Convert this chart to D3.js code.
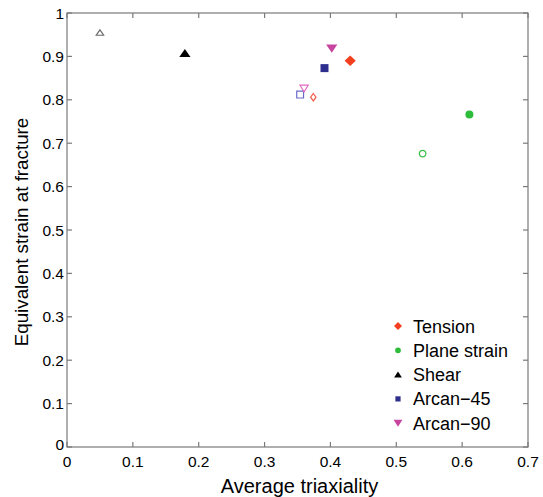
<!DOCTYPE html>
<html><head><meta charset="utf-8">
<script src="https://cdn.jsdelivr.net/npm/d3@7"></script>
<style>body{margin:0;background:#fff}svg{display:block}text{font-family:"Liberation Sans",Arial,sans-serif}</style>
</head><body>
<svg id="c" width="543" height="497"></svg>
<script>
const xTicks = [0,0.1,0.2,0.3,0.4,0.5,0.6,0.7];
const yTicks = [0,0.1,0.2,0.3,0.4,0.5,0.6,0.7,0.8,0.9,1];
const seriesNames = ["Tension","Plane strain","Shear","Arcan\u221245","Arcan\u221290"];
const seriesShapes = ["diamond","circle","triUp","square","triDown"];
const filledColors = ["#f2401e","#2ebd3a","#000000","#2e2e8e","#c8459f"];
const openColors = ["#f25a4a","#3cbf48","#6a6a6a","#6a6ac8","#e06ac0"];
const filledX = [0.430,0.611,0.179,0.391,0.402];
const filledY = [0.890,0.766,0.908,0.873,0.918];
const openX = [0.374,0.540,0.050,0.354,0.360];
const openY = [0.806,0.676,0.955,0.812,0.826];

const svg = d3.select("#c");
const L=67,R=528,T=13,B=447;
const x = d3.scaleLinear().domain([0,0.7]).range([L,R]);
const y = d3.scaleLinear().domain([0,1]).range([B,T]);
const axisCol="#7a7a7a";

// w = half width, h = half height
function shapePath(shape, cx, cy, w, h){
  switch(shape){
    case "diamond": return `M${cx},${cy-h}L${cx+w},${cy}L${cx},${cy+h}L${cx-w},${cy}Z`;
    case "square": return `M${cx-w},${cy-h}h${2*w}v${2*h}h${-2*w}Z`;
    case "triUp": return `M${cx},${cy-h}L${cx+w},${cy+h}L${cx-w},${cy+h}Z`;
    case "triDown": return `M${cx},${cy+h}L${cx+w},${cy-h}L${cx-w},${cy-h}Z`;
    case "circle": return `M${cx+w},${cy}A${w},${w} 0 1,1 ${cx-w},${cy}A${w},${w} 0 1,1 ${cx+w},${cy}Z`;
  }
}

svg.append("rect").attr("x",L).attr("y",T).attr("width",R-L).attr("height",B-T)
  .attr("fill","none").attr("stroke",axisCol).attr("stroke-width",1.2);

const tl=5;
xTicks.forEach(t=>{
  svg.append("line").attr("x1",x(t)).attr("x2",x(t)).attr("y1",B).attr("y2",B-tl).attr("stroke",axisCol).attr("stroke-width",1.2);
  svg.append("line").attr("x1",x(t)).attr("x2",x(t)).attr("y1",T).attr("y2",T+tl).attr("stroke",axisCol).attr("stroke-width",1.2);
  svg.append("text").attr("x",x(t)).attr("y",B+20).attr("text-anchor","middle").attr("font-size",15.5).text(t===0?"0":d3.format(".1f")(t));
});
yTicks.forEach(t=>{
  svg.append("line").attr("x1",L).attr("x2",L+tl).attr("y1",y(t)).attr("y2",y(t)).attr("stroke",axisCol).attr("stroke-width",1.2);
  svg.append("line").attr("x1",R).attr("x2",R-tl).attr("y1",y(t)).attr("y2",y(t)).attr("stroke",axisCol).attr("stroke-width",1.2);
  svg.append("text").attr("x",L-3).attr("y",y(t)+(t===0?3:5.5)).attr("text-anchor","end").attr("font-size",15.5).text(t===0?"0":(t===1?"1":d3.format(".1f")(t)));
});

svg.append("text").attr("x",(L+R)/2+2).attr("y",493).attr("text-anchor","middle").attr("font-size",20).text("Average triaxiality");
svg.append("text").attr("transform",`translate(28,${(T+B)/2+2}) rotate(-90)`).attr("text-anchor","middle").attr("font-size",18.8).text("Equivalent strain at fracture");

// open markers: [halfW, halfH]
const os=[[2.7,3.7],[3.3,3.3],[3.7,2.7],[3.4,3.4],[4.1,3.3]];
seriesNames.forEach((n,i)=>{
  svg.append("path").attr("d",shapePath(seriesShapes[i],x(openX[i]),y(openY[i]),os[i][0],os[i][1]))
    .attr("fill","none").attr("stroke",openColors[i]).attr("stroke-width",1.2);
});
// filled markers
const fs=[[5.6,5.3],[4,4],[5.6,4],[4,4],[5.6,4.2]];
seriesNames.forEach((n,i)=>{
  svg.append("path").attr("d",shapePath(seriesShapes[i],x(filledX[i]),y(filledY[i]),fs[i][0],fs[i][1]))
    .attr("fill",filledColors[i]).attr("stroke","none");
});

// legend
const ls=[[4,4],[2.9,2.9],[3.9,3],[2.6,2.6],[4.4,3.5]];
const lg = svg.append("g");
seriesNames.forEach((n,i)=>{
  const yy = 326 + i*24.3;
  lg.append("path").attr("d",shapePath(seriesShapes[i],398,yy,ls[i][0],ls[i][1]))
    .attr("fill",filledColors[i]);
  lg.append("text").attr("x",413).attr("y",yy+6.5).attr("font-size",18).text(n);
});
</script>
</body></html>
